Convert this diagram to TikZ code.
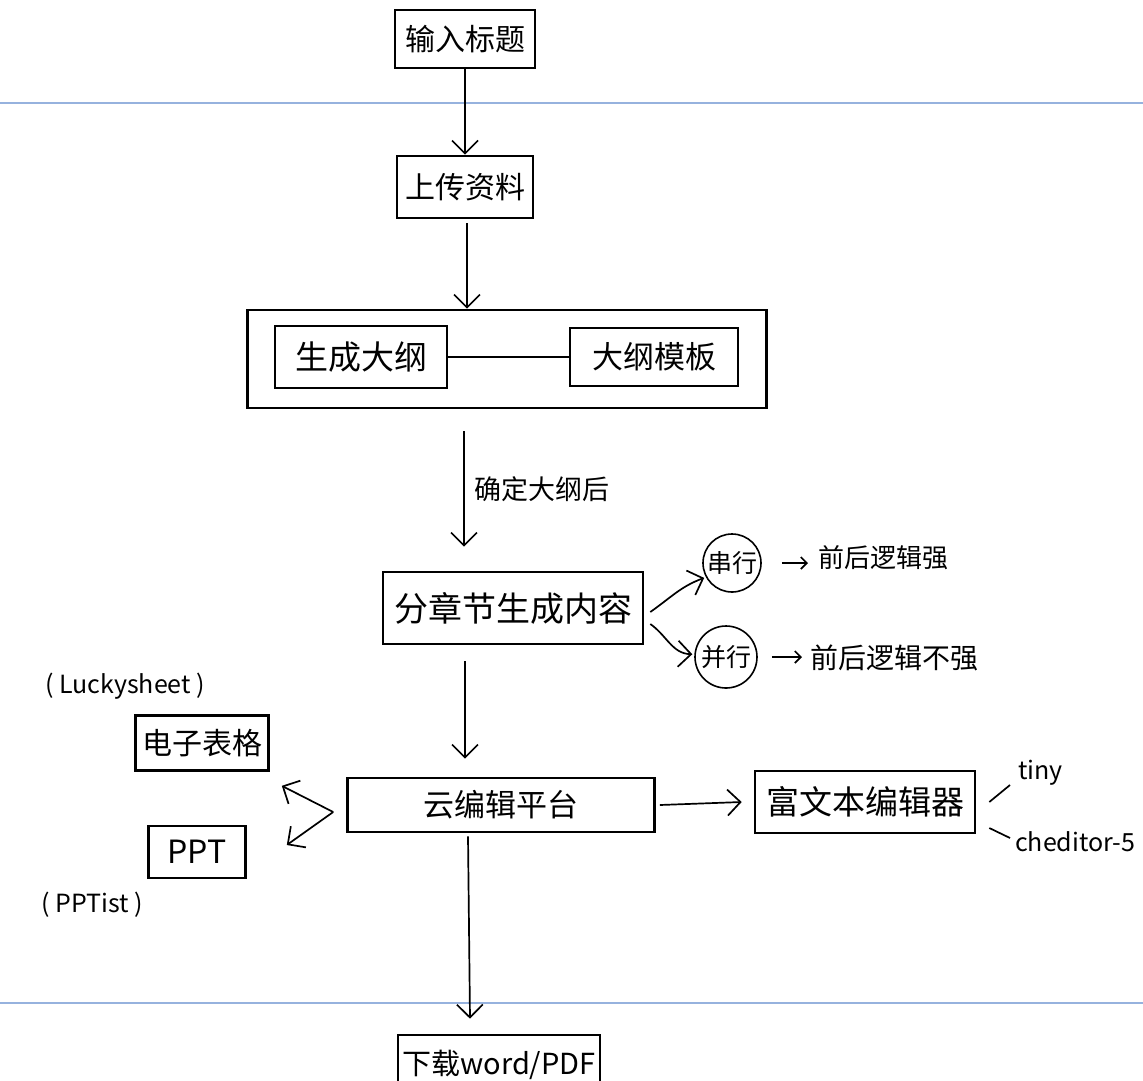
\documentclass[tikz,border=0pt]{standalone}
\usepackage{fontspec}
\newfontfamily\cjk{Noto Sans CJK SC}
\usetikzlibrary{arrows.meta}
\definecolor{guideblue}{RGB}{150,178,222}
\begin{document}
\begin{tikzpicture}[x=1pt,y=-1pt,
  box/.style={draw, line width=2.6pt, inner sep=0pt, font=\cjk\fontsize{30}{32}\selectfont},
  circ/.style={draw, circle, line width=1.6pt, inner sep=0pt, minimum size=58pt, font=\cjk\fontsize{25}{28}\selectfont},
  lbl/.style={font=\cjk\fontsize{25}{28}\selectfont, inner sep=0pt},
  arr/.style={-{Straight Barb[length=13pt,width=26pt]}, line width=1.7pt},
  link/.style={line width=1.7pt},
  guide/.style={draw=guideblue, line width=1.1pt}]
\useasboundingbox (0,0) rectangle (1143,1080);
% guide lines
\coordinate (gl1) at (0,103); \coordinate (gr1) at (1143,103);
\coordinate (gl2) at (0,1003); \coordinate (gr2) at (1143,1003);
\draw[guide] (gl1) -- (gr1);
\draw[guide] (gl2) -- (gr2);
% main column
\node[box, minimum width=140pt, minimum height=58pt] (t1) at (465,39) {输入标题};
\node[box, minimum width=136pt, minimum height=62pt] (t2) at (465,187) {上传资料};
\node[draw, line width=2.6pt, minimum width=519pt, minimum height=98pt, inner sep=0pt] (outer) at (507,359) {};
\node[box, minimum width=172pt, minimum height=62pt, font=\cjk\fontsize{33}{35}\selectfont] (gen) at (361,357) {生成大纲};
\node[box, minimum width=168pt, minimum height=58pt, font=\cjk\fontsize{31}{33}\selectfont] (tpl) at (654,357) {大纲模板};
\node[box, minimum width=260pt, minimum height=72pt, font=\cjk\fontsize{34}{36}\selectfont] (sec) at (513,608) {分章节生成内容};
\node[box, minimum width=307pt, minimum height=54pt, font=\cjk\fontsize{31}{33}\selectfont] (cloud) at (501,805) {云编辑平台};
\node[box, minimum width=202pt, minimum height=60pt, font=\cjk\fontsize{29}{31}\selectfont] (dl) at (499,1065) {下载word/PDF};
% right branch of sections
\node[circ] (ser) at (732,563) {串行};
\node[circ, minimum size=62pt] (par) at (726,657) {并行};
\node[lbl, anchor=west, font=\cjk\fontsize{26}{30}\selectfont] (s1) at (818,558) {前后逻辑强};
\node[lbl, anchor=west, font=\cjk\fontsize{28}{30}\selectfont] (s2) at (810,658) {前后逻辑不强};
% editors
\node[box, minimum width=220pt, minimum height=62pt, font=\cjk\fontsize{33}{35}\selectfont] (rich) at (865,802) {富文本编辑器};
\node[lbl, anchor=west] (tiny) at (1018,773) {tiny};
\node[lbl, anchor=west] (cke) at (1015,842) {cheditor-5};
\node[box, minimum width=133pt, minimum height=55pt] (sheet) at (202,743) {电子表格};
\node[lbl] (lucky) at (125,686) {( Luckysheet )};
\node[box, minimum width=97pt, minimum height=52pt, font=\cjk\fontsize{32}{34}\selectfont] (ppt) at (197,852) {PPT};
\node[lbl] (pptist) at (92,905) {( PPTist )};
% connectors
\draw[arr] (t1.south) -- (t2.north);
\draw[arr] ([xshift=2pt,yshift=-4pt]t2.south) -- ([xshift=2pt]t2.south |- outer.north);
\draw[link] (gen) -- (tpl);
\draw[arr] ([xshift=-43pt,yshift=-22pt]outer.south) -- ([xshift=-49pt,yshift=24pt]sec.north) node[midway, right=10pt, lbl, font=\cjk\fontsize{27}{29}\selectfont] {确定大纲后};
\draw[arr] ([xshift=6pt,yshift=-4pt]sec.east) to[out=35, in=200] ([xshift=-2pt]ser.210);
\draw[arr] ([xshift=6pt,yshift=-16pt]sec.east) to[out=-35, in=178] ([xshift=-2pt]par.175);
\draw[arr, -{Straight Barb[length=6pt,width=12pt]}] ([xshift=20pt]ser.east) -- ([xshift=-10pt]s1.west |- ser.east);
\draw[arr, -{Straight Barb[length=6pt,width=12pt]}] ([xshift=14pt]par.east) -- ([xshift=-8pt]s2.west |- par.east);
\draw[arr] ([xshift=-48pt,yshift=-16pt]sec.south) -- ([xshift=-36pt,yshift=18pt]cloud.north);
\draw[arr] ([xshift=4pt]cloud.east) -- ([xshift=-12pt]rich.west);
\draw[link] ([xshift=13pt]rich.east) -- ([xshift=-8pt,yshift=-12pt]tiny.west);
\draw[link] ([xshift=13pt,yshift=-26pt]rich.east) -- ([xshift=-5pt,yshift=4pt]cke.west);
\draw[arr] ([xshift=-13pt,yshift=-7pt]cloud.west) -- ([xshift=12pt,yshift=-14pt]sheet.south east);
\draw[arr] ([xshift=-13pt,yshift=-7pt]cloud.west) -- ([xshift=40pt,yshift=7pt]ppt.east);
\draw[arr] ([xshift=-33pt,yshift=-3pt]cloud.south) -- ([xshift=-29pt,yshift=15pt]dl.north);
\end{tikzpicture}
\end{document}
